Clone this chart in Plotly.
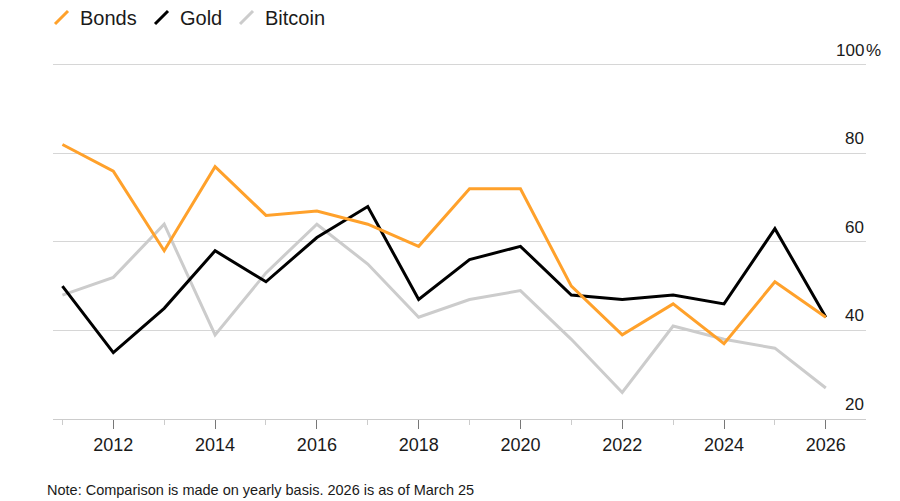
import plotly.graph_objects as go

years = list(range(2011, 2027))
bonds = [82, 76, 58, 77, 66, 67, 64, 59, 72, 72, 50, 39, 46, 37, 51, 43]
gold = [50, 35, 45, 58, 51, 61, 68, 47, 56, 59, 48, 47, 48, 46, 63, 43]
bitcoin = [48, 52, 64, 39, 53, 64, 55, 43, 47, 49, 38, 26, 41, 38, 36, 27]

series_names = ["Bonds", "Gold", "Bitcoin"]
series_colors = ["#FFA12B", "#000000", "#CCCCCC"]
y_ticks = [20, 40, 60, 80, 100]
x_ticks = [2012, 2014, 2016, 2018, 2020, 2022, 2024, 2026]
note = "Note: Comparison is made on yearly basis. 2026 is as of March 25"

OFF = 8  # page body margin
W, H = 900 - OFF, 501 - OFF
ML, MR, MT, MB = 45, 34, 48, 82
PW, PH = W - ML - MR, H - MT - MB
FONT = "Liberation Sans, Arial, sans-serif"
TXT = "#1a1a1a"


def px_x(px):
    return (px - OFF - ML) / PW


def px_y(py):
    return (H - MB - (py - OFF)) / PH


fig = go.Figure()
data = {"Bonds": bonds, "Gold": gold, "Bitcoin": bitcoin}
for name in ["Bitcoin", "Gold", "Bonds"]:
    c = series_colors[series_names.index(name)]
    fig.add_trace(go.Scatter(x=years, y=data[name], mode="lines", name=name,
                             line=dict(color=c, width=3), showlegend=False))

annotations = []
for v in y_ticks:
    annotations.append(dict(x=1, y=v, xref="paper", yref="y", text=str(v),
                            xanchor="right", yanchor="bottom", yshift=3,
                            showarrow=False, font=dict(size=17, color=TXT, family=FONT)))
    if v == 100:
        annotations.append(dict(x=1, y=v, xref="paper", yref="y", text="%",
                                xanchor="left", yanchor="bottom", yshift=3, xshift=-2,
                                showarrow=False, font=dict(size=17, color=TXT, family=FONT)))

# custom legend
shapes = []
leg_x = [55, 155, 240]
for i, name in enumerate(series_names):
    x0 = leg_x[i]
    shapes.append(dict(type="line", xref="paper", yref="paper",
                       x0=px_x(x0), x1=px_x(x0 + 13), y0=px_y(24), y1=px_y(11),
                       line=dict(color=series_colors[i], width=3)))
    annotations.append(dict(x=px_x(x0 + 23), y=px_y(17.5), xref="paper", yref="paper",
                            text=name, xanchor="left", yanchor="middle", showarrow=False,
                            font=dict(size=20, color=TXT, family=FONT)))

annotations.append(dict(x=px_x(45), y=px_y(490), xref="paper", yref="paper", text=note,
                        xanchor="left", yanchor="middle", showarrow=False,
                        font=dict(size=14.5, color=TXT, family=FONT)))

fig.update_layout(
    width=W, height=H,
    margin=dict(l=ML, r=MR, t=MT, b=MB),
    paper_bgcolor="white", plot_bgcolor="white",
    showlegend=False,
    annotations=annotations,
    shapes=shapes,
    xaxis=dict(range=[2010.815, 2026.79], tickvals=x_ticks, ticktext=[str(t) for t in x_ticks],
               ticks="outside", ticklen=9, tickcolor="#777777", tickwidth=1,
               showline=True, linecolor="#cccccc", linewidth=1,
               showgrid=False, zeroline=False,
               tickfont=dict(size=18, color=TXT, family=FONT),
               minor=dict(dtick=1, tick0=2011, ticks="outside", ticklen=5,
                          tickcolor="#cccccc", tickwidth=1, showgrid=False)),
    yaxis=dict(range=[20, 102], tickvals=y_ticks, showticklabels=False,
               showgrid=True, gridcolor="#d6d6d6", gridwidth=1, zeroline=False,
               ticks=""),
)

fig.write_html("out.html")
